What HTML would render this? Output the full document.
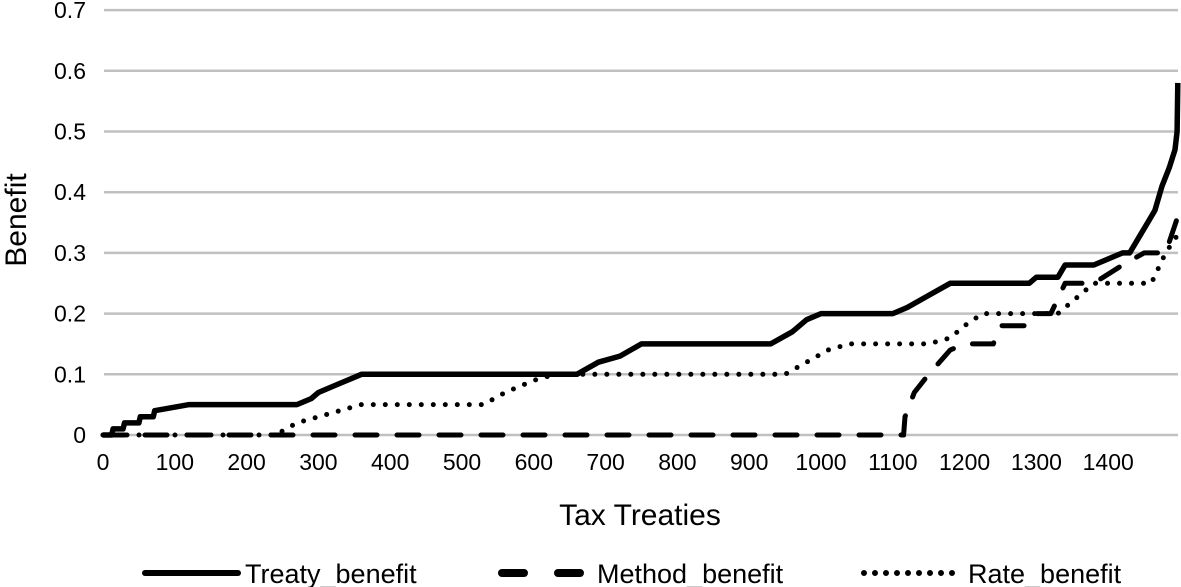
<!DOCTYPE html>
<html><head><meta charset="utf-8"><style>
html,body{margin:0;padding:0;background:#fff;}
svg{display:block;font-family:"Liberation Sans",sans-serif;}
</style></head><body>
<svg id="chart" width="1181" height="587"></svg>
<script>
const xTicks=[0,100,200,300,400,500,600,700,800,900,1000,1100,1200,1300,1400];
const yTicks=[0,0.1,0.2,0.3,0.4,0.5,0.6,0.7];
const treatyIdx=[0,12,14,28,30,50,52,70,72,120,270,290,300,320,340,360,660,690,720,750,930,960,980,1000,1100,1120,1150,1180,1290,1300,1330,1340,1380,1420,1430,1445,1455,1465,1475,1485,1493,1496,1497];
const treatyVal=[0,0,0.01,0.01,0.02,0.02,0.03,0.03,0.04,0.05,0.05,0.06,0.07,0.08,0.09,0.1,0.1,0.12,0.13,0.15,0.15,0.17,0.19,0.2,0.2,0.21,0.23,0.25,0.25,0.26,0.26,0.28,0.28,0.3,0.3,0.33,0.35,0.37,0.41,0.44,0.47,0.5,0.58];
const methodIdx=[0,1115,1117,1130,1150,1165,1180,1200,1240,1250,1290,1300,1320,1340,1380,1420,1450,1480,1497];
const methodVal=[0,0,0.03,0.07,0.1,0.12,0.14,0.15,0.15,0.18,0.18,0.2,0.2,0.25,0.25,0.28,0.3,0.3,0.36];
const rateIdx=[0,240,270,300,330,360,530,560,600,630,950,980,1010,1040,1150,1180,1200,1225,1330,1360,1380,1460,1480,1497];
const rateVal=[0,0,0.02,0.03,0.04,0.05,0.05,0.07,0.09,0.1,0.1,0.12,0.14,0.15,0.15,0.16,0.18,0.2,0.2,0.23,0.25,0.25,0.3,0.33];

const NS="http://www.w3.org/2000/svg";
const svg=document.getElementById('chart');
const X0=103,PX=0.718,Y0=435,PY=607;
function xs(v){return X0+v*PX;}
function ys(v){return Y0-v*PY;}
function mk(tag,attrs,parent){const e=document.createElementNS(NS,tag);for(const k in attrs)e.setAttribute(k,attrs[k]);(parent||svg).appendChild(e);return e;}

yTicks.forEach(t=>{
  const g=mk('line',{x1:104,x2:1178,y1:ys(t),y2:ys(t),stroke:'#c0c0c0','stroke-width':2.5});
  
  
  const l=mk('text',{x:86,y:ys(t)+8,'text-anchor':'end','font-size':23,fill:'#000'});
  l.textContent=t===0?'0':String(t);
  
  
});
xTicks.forEach(t=>{
  const l=mk('text',{x:xs(t),y:470,'text-anchor':'middle','font-size':23,fill:'#000'});
  l.textContent=String(t);
  
  
});
function series(idx,val,attrs,name){
  const pts=idx.map((d,i)=>xs(d).toFixed(1)+','+ys(val[i]).toFixed(1)).join(' ');
  const p=mk('polyline',Object.assign({points:pts,fill:'none',stroke:'#000'},attrs));
  
  
}
series(methodIdx,methodVal,{'stroke-width':5,'stroke-dasharray':'22 20','stroke-linecap':'round','stroke-linejoin':'round'},'method-benefit-line');
series(rateIdx,rateVal,{'stroke-width':5,'stroke-dasharray':'0 12','stroke-linecap':'round','stroke-linejoin':'round'},'rate-benefit-line');
series(treatyIdx,treatyVal,{'stroke-width':5.5,'stroke-linejoin':'round'},'treaty-benefit-line');

const xt=mk('text',{x:640,y:525,'text-anchor':'middle','font-size':30,fill:'#000'});
xt.textContent='Tax Treaties';


const yt=mk('text',{x:0,y:0,'text-anchor':'middle','font-size':30,fill:'#000',transform:'translate(26,220) rotate(-90)'});
yt.textContent='Benefit';



const legend=[
 {name:'legend-treaty',label:'Treaty_benefit',x1:145,x2:238,tx:245,attrs:{'stroke-width':6,'stroke-linecap':'round'}},
 {name:'legend-method',label:'Method_benefit',x1:502,x2:583,tx:597,attrs:{'stroke-width':8,'stroke-dasharray':'22 34','stroke-linecap':'round'}},
 {name:'legend-rate',label:'Rate_benefit',x1:864,x2:958,tx:968,attrs:{'stroke-width':6,'stroke-dasharray':'0 11','stroke-linecap':'round'}}
];
legend.forEach(e=>{
  const g=mk('g',{});
  
  
  mk('line',Object.assign({x1:e.x1,x2:e.x2,y1:573,y2:573,stroke:'#000'},e.attrs),g);
  const t=mk('text',{x:e.tx,y:583,'font-size':27,fill:'#000'},g);
  t.textContent=e.label;
});
</script>
</body></html>
